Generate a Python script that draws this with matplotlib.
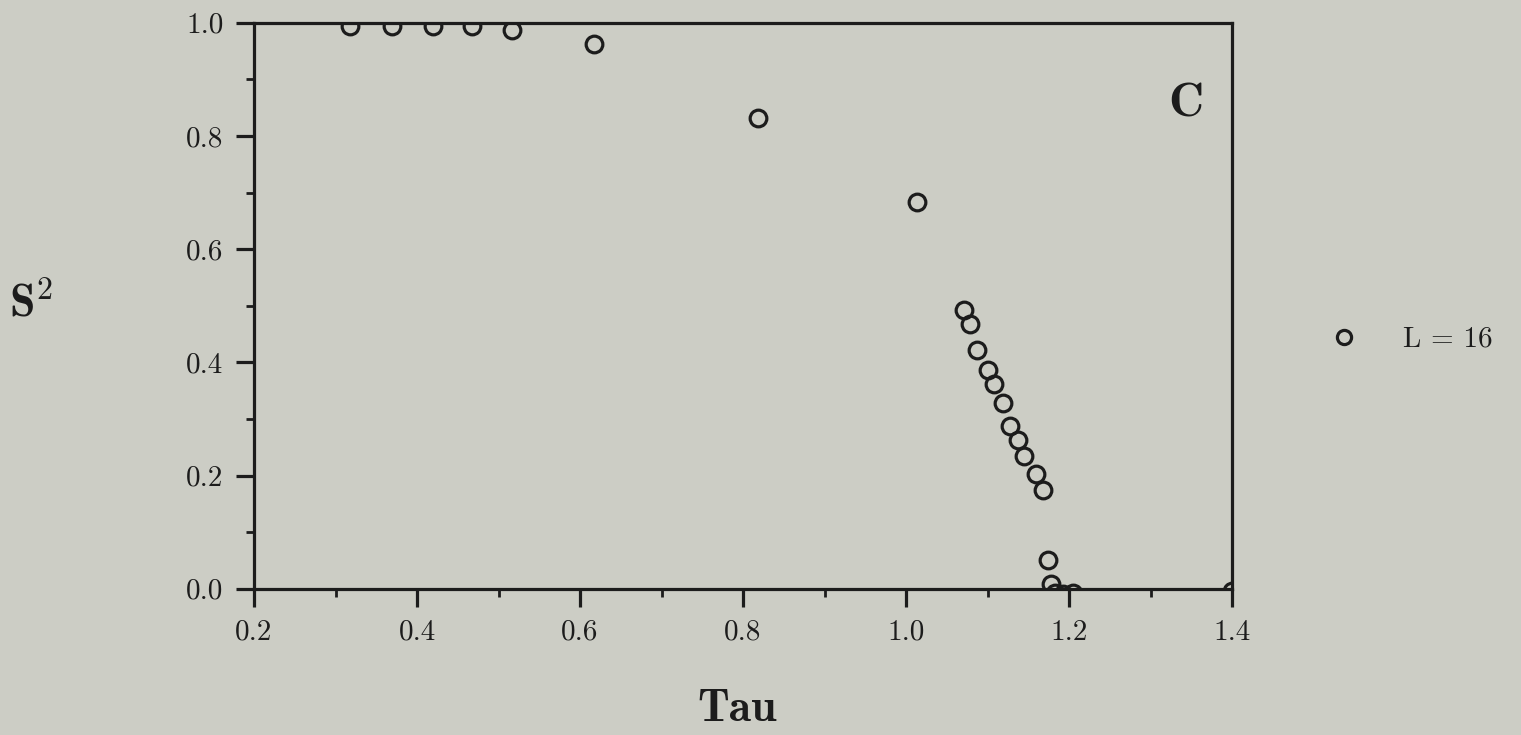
import matplotlib
matplotlib.use('Agg')
import matplotlib.pyplot as plt
from matplotlib.ticker import MultipleLocator, FormatStrFormatter

plt.rcParams['mathtext.fontset'] = 'cm'

# data (L = 16)
tau = [0.318, 0.369, 0.420, 0.467, 0.517, 0.617, 0.818, 1.014,
       1.071, 1.078, 1.087, 1.100, 1.108, 1.119, 1.128, 1.137, 1.145,
       1.160, 1.168, 1.174, 1.178, 1.183, 1.193, 1.205, 1.400]
s2 = [0.994, 0.994, 0.994, 0.994, 0.988, 0.963, 0.832, 0.684,
      0.493, 0.468, 0.422, 0.387, 0.362, 0.329, 0.288, 0.262, 0.235,
      0.202, 0.175, 0.050, 0.008, -0.008, -0.010, -0.008, -0.004]
series_label = 'L = 16'
panel_letter = 'C'

bg = '#cccdc5'
ink = '#1c1c1c'

fig = plt.figure(figsize=(15.21, 7.35), dpi=100, facecolor=bg)
ax = fig.add_axes([0.167, 0.199, 0.643, 0.770])
ax.set_facecolor(bg)

ax.plot(tau, s2, linestyle='none', marker='o', markersize=12,
        markerfacecolor='none', markeredgecolor=ink, markeredgewidth=2.3,
        label=series_label, clip_on=True)

ax.set_xlim(0.2, 1.4)
ax.set_ylim(0.0, 1.0)
ax.xaxis.set_major_locator(MultipleLocator(0.2))
ax.xaxis.set_minor_locator(MultipleLocator(0.1))
ax.yaxis.set_major_locator(MultipleLocator(0.2))
ax.yaxis.set_minor_locator(MultipleLocator(0.1))
ax.xaxis.set_major_formatter(FormatStrFormatter('%.1f'))
ax.yaxis.set_major_formatter(FormatStrFormatter('%.1f'))

for sp in ax.spines.values():
    sp.set_linewidth(2.3)
    sp.set_color(ink)

ax.tick_params(which='major', direction='out', length=13, width=2.3,
               color=ink, labelsize=21, labelcolor=ink, pad=9)
ax.tick_params(which='minor', direction='out', length=6, width=2.0, color=ink)
for lab in ax.get_xticklabels() + ax.get_yticklabels():
    lab.set_family('cmr10')

ax.set_xlabel('Tau', fontsize=33, family='cmb10', color=ink)
ax.xaxis.set_label_coords(0.494, -0.178)
fig.text(0.006, 0.587, r'$\mathbf{S}^{\mathbf{2}}$', fontsize=33,
         color=ink, ha='left', va='center')
ax.text(0.953, 0.855, panel_letter, transform=ax.transAxes, fontsize=35,
        family='cmb10', color=ink, ha='center', va='center')

leg = ax.legend(loc='center left', bbox_to_anchor=(1.064, 0.44), frameon=False,
                handletextpad=1.2, handlelength=1.6, markerscale=0.85,
                prop={'family': 'cmr10', 'size': 21})
for t in leg.get_texts():
    t.set_color(ink)

fig.savefig('out.png', dpi=100, facecolor=bg)
